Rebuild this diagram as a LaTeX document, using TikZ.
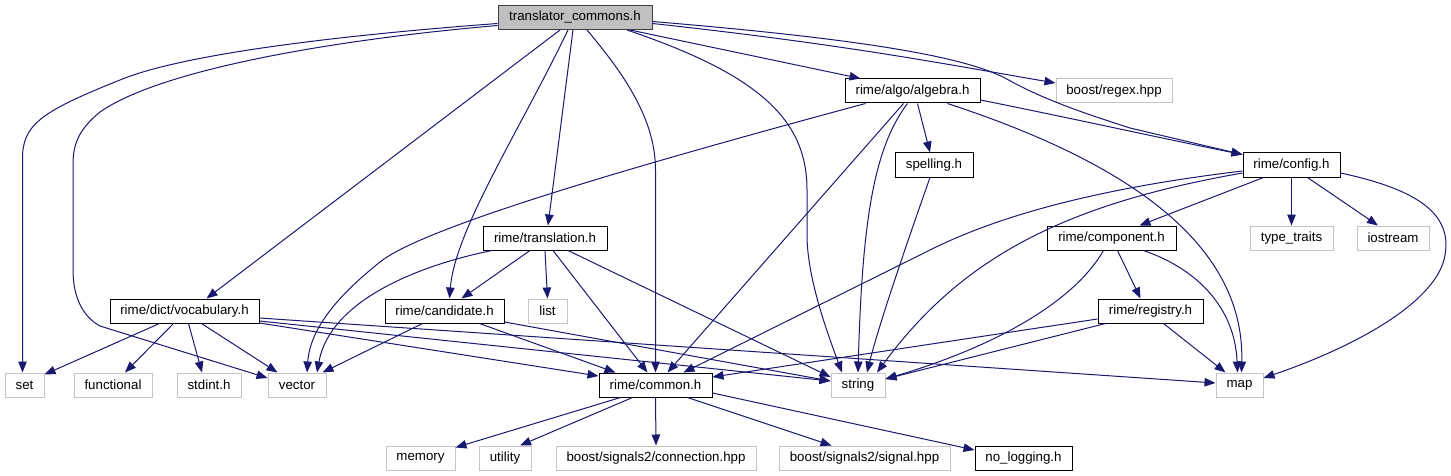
\documentclass[tikz,border=0pt]{standalone}
\usepackage{fontspec}
\setmainfont{Liberation Sans}
\usetikzlibrary{arrows.meta,calc}
\definecolor{edgec}{HTML}{191970}
\definecolor{sysc}{HTML}{C4C4C4}
\definecolor{tcfill}{HTML}{BFBFBF}
\begin{document}
\begin{tikzpicture}[x=1pt,y=-1pt,
  every node/.style={font=\fontsize{13.3}{15}\selectfont, inner sep=0pt, minimum height=24pt, anchor=center},
  proj/.style={draw=black, line width=1pt, fill=white},
  sysh/.style={draw=sysc, line width=1pt, fill=white},
  mainh/.style={draw=black!75, line width=1pt, fill=tcfill},
  dep/.style={draw=edgec, line width=1pt, -{Triangle[length=11pt,width=8.5pt]}, edgec}]
\useasboundingbox (0,0) rectangle (1451,476);
% nodes
\node[mainh, minimum width=154pt] (tc) at (575,17.5) {translator\_commons.h};
\node[proj, minimum width=135pt] (alg) at (912.5,91) {rime/algo/algebra.h};
\node[sysh, minimum width=116pt] (regex) at (1114,91) {boost/regex.hpp};
\node[proj, minimum width=78pt] (spell) at (934,165) {spelling.h};
\node[proj, minimum width=97pt] (config) at (1291.5,165) {rime/config.h};
\node[proj, minimum width=124pt] (trans) at (545,238) {rime/translation.h};
\node[proj, minimum width=129pt] (comp) at (1111.5,238) {rime/component.h};
\node[sysh, minimum width=83pt] (tt) at (1291.5,238) {type\_traits};
\node[sysh, minimum width=72pt] (ios) at (1393,238) {iostream};
\node[proj, minimum width=149pt] (vocab) at (184.5,311) {rime/dict/vocabulary.h};
\node[proj, minimum width=119pt] (cand) at (444.5,311) {rime/candidate.h};
\node[sysh, minimum width=39pt] (list) at (547.5,311) {list};
\node[proj, minimum width=105pt] (reg) at (1150.5,311) {rime/registry.h};
\node[sysh, minimum width=39pt] (set) at (24.5,385) {set};
\node[sysh, minimum width=78pt] (func) at (113,385) {functional};
\node[sysh, minimum width=64pt] (stdint) at (209,385) {stdint.h};
\node[sysh, minimum width=58pt] (vector) at (297,385) {vector};
\node[proj, minimum width=113pt] (common) at (655.5,385) {rime/common.h};
\node[sysh, minimum width=54pt] (string) at (858,385) {string};
\node[sysh, minimum width=47pt] (map) at (1239.5,385) {map};
\node[sysh, minimum width=69pt] (memory) at (420.5,458) {memory};
\node[sysh, minimum width=52pt] (utility) at (505,458) {utility};
\node[sysh, minimum width=200pt] (conn) at (656,458) {boost/signals2/connection.hpp};
\node[sysh, minimum width=171pt] (signal) at (864.5,458) {boost/signals2/signal.hpp};
\node[proj, minimum width=97pt] (nolog) at (1023.5,458) {no\_logging.h};
% edges from translator_commons.h
\draw[dep] ($(tc.west)+(0,6)$) .. controls (330,36) and (180,55) .. (120,80) .. controls (40,112) and (22,125) .. (22.5,160) -- ($(set.north)+(-2,0)$);
\draw[dep] ($(tc.west)+(0,8)$) .. controls (330,40) and (160,70) .. (100,112) .. controls (78,130) and (73,145) .. (73,165) -- (73,270) .. controls (73,300) and (85,318) .. (100,326) -- ($(vector.west)+(0,-7)$);
\draw[dep] ($(tc.south)+(-15,0)$) -- ($(vocab.north)+(22,0)$);
\draw[dep] ($(tc.south)+(-7,0)$) .. controls (520,130) and (455,230) .. ($(cand.north)+(5,0)$);
\draw[dep] ($(tc.south)+(-2,0)$) -- ($(trans.north)+(3,0)$);
\draw[dep] ($(tc.south)+(12,0)$) .. controls (625,75) and (655.5,120) .. (655.5,170) -- (common.north);
\draw[dep] ($(tc.south)+(52,0)$) .. controls (760,75) and (807,120) .. (807,190) -- (807,235) .. controls (807,280) and (830,340) .. ($(string.north)+(-16,0)$);
\draw[dep] ($(tc.south)+(55,0)$) -- ($(alg.north)+(-52,0)$);
\draw[dep] ($(tc.east)+(0,6)$) .. controls (850,45) and (950,65) .. ($(regex.west)+(0,-8)$);
\draw[dep] ($(tc.east)+(0,4)$) .. controls (850,38) and (960,55) .. (1005,78) .. controls (1040,98) and (1080,112) .. (1130,128) -- ($(config.north west)+(0,2)$);
% edges from algebra.h
\draw[dep] ($(alg.south)+(-47,0)$) .. controls (600,175) and (420,230) .. (380,262) .. controls (335,298) and (310,330) .. ($(vector.north)+(10,0)$);
\draw[dep] ($(alg.south)+(-9,0)$) -- ($(common.north)+(12,0)$);
\draw[dep] ($(alg.south)+(-5,0)$) .. controls (872,150) and (862,230) .. (string.north);
\draw[dep] ($(alg.south)+(5,0)$) -- ($(spell.north)+(-4,0)$);
\draw[dep] ($(alg.south)+(35,0)$) .. controls (1120,160) and (1245,240) .. ($(map.north)+(2,0)$);
\draw[dep] ($(alg.east)+(0,9)$) .. controls (1080,120) and (1160,138) .. ($(config.north west)+(0,2)$);
% spelling.h
\draw[dep] ($(spell.south)+(-4,0)$) .. controls (915,220) and (880,320) .. ($(string.north)+(9,0)$);
% config.h
\draw[dep] ($(config.west)+(0,6)$) .. controls (1100,188) and (1000,215) .. (930,250) -- ($(common.north)+(28,0)$);
\draw[dep] ($(config.west)+(0,8)$) .. controls (1060,205) and (960,260) .. ($(string.north)+(19,0)$);
\draw[dep] ($(config.south)+(-28,0)$) -- ($(comp.north)+(28,0)$);
\draw[dep] (config.south) -- (tt.north);
\draw[dep] ($(config.south)+(16,0)$) -- ($(ios.north)+(-15,0)$);
\draw[dep] ($(config.east)+(0,8)$) .. controls (1420,190) and (1452,215) .. (1445,255) .. controls (1438,300) and (1360,345) .. ($(map.east)+(0,-7)$);
% component.h
\draw[dep] ($(comp.south)+(-8,0)$) .. controls (1075,300) and (1000,345) .. ($(string.east)+(0,-6)$);
\draw[dep] ($(comp.south)+(6,0)$) -- ($(reg.north)+(-10,0)$);
\draw[dep] ($(comp.south)+(32,0)$) .. controls (1200,270) and (1235,310) .. ($(map.north)+(-2,0)$);
% registry.h
\draw[dep] ($(reg.west)+(0,8)$) -- ($(common.east)+(0,-8)$);
\draw[dep] ($(reg.south)+(-45,0)$) -- ($(string.east)+(0,-6)$);
\draw[dep] ($(reg.south)+(13,0)$) -- ($(map.north west)+(10,0)$);
% translation.h
\draw[dep] ($(trans.south)+(-53,0)$) .. controls (420,265) and (330,300) .. ($(vector.north)+(20,0)$);
\draw[dep] ($(trans.south)+(-15,0)$) -- ($(cand.north)+(17,0)$);
\draw[dep] (trans.south) -- (list.north);
\draw[dep] ($(trans.south)+(8,0)$) -- ($(common.north)+(-8,0)$);
\draw[dep] ($(trans.south)+(23,0)$) -- ($(string.west)+(0,-8)$);
% candidate.h
\draw[dep] ($(cand.south)+(-22,0)$) -- ($(vector.north east)+(-4,0)$);
\draw[dep] ($(cand.south)+(35,0)$) -- ($(common.north)+(-40,0)$);
\draw[dep] ($(cand.east)+(0,11)$) -- ($(string.west)+(0,-4)$);
% vocabulary.h
\draw[dep] ($(vocab.south)+(-25,0)$) -- ($(set.north east)+(0,2)$);
\draw[dep] ($(vocab.south)+(-11,0)$) -- ($(func.north)+(12,0)$);
\draw[dep] ($(vocab.south)+(4,0)$) -- ($(stdint.north)+(-7,0)$);
\draw[dep] ($(vocab.south)+(17,0)$) -- ($(vector.north west)+(10,0)$);
\draw[dep] ($(vocab.east)+(0,12)$) -- ($(common.west)+(0,-9)$);
\draw[dep] ($(vocab.east)+(0,10)$) -- ($(string.west)+(0,-4)$);
\draw[dep] ($(vocab.east)+(0,7)$) -- ($(map.west)+(0,-2)$);
% common.h
\draw[dep] ($(common.south)+(-35,0)$) -- ($(memory.north east)+(0,2)$);
\draw[dep] ($(common.south)+(-23,0)$) -- ($(utility.north)+(15,0)$);
\draw[dep] (common.south) -- (conn.north);
\draw[dep] ($(common.south)+(32,0)$) -- ($(signal.north)+(-33,0)$);
\draw[dep] ($(common.east)+(0,8)$) -- ($(nolog.west)+(0,-8)$);
\end{tikzpicture}
\end{document}
